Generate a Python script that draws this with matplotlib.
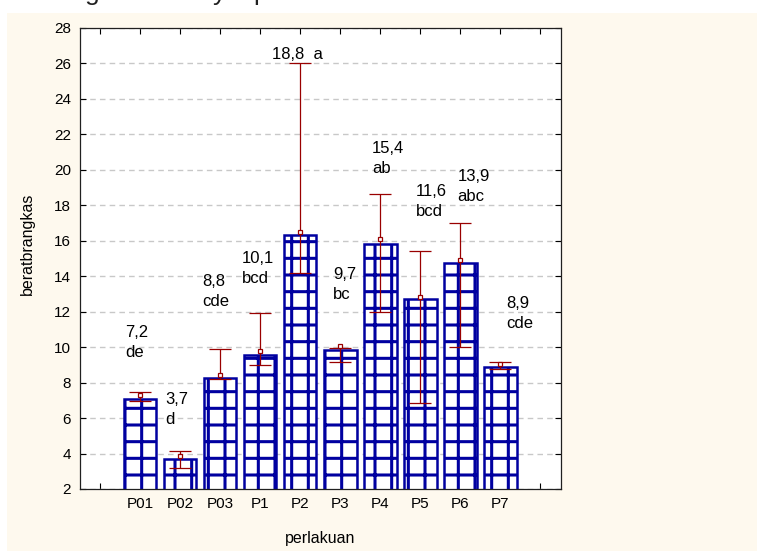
# bar chart of beratbrangkas per perlakuan, with error bars and letter groups
import matplotlib
matplotlib.use("Agg")
import matplotlib.pyplot as plt
from matplotlib.patches import Rectangle
import numpy as np

categories = ["P01", "P02", "P03", "P1", "P2", "P3", "P4", "P5", "P6", "P7"]
bar_vals = [7.06, 3.68, 8.28, 9.57, 16.33, 9.85, 15.82, 12.70, 14.73, 8.88]
mean_vals = [7.30, 3.88, 8.43, 9.78, 16.48, 10.05, 16.08, 12.83, 14.92, 9.03]
err_low = [6.98, 3.17, 8.20, 8.98, 14.20, 9.18, 12.00, 6.87, 9.99, 8.77]
err_high = [7.47, 4.16, 9.88, 11.91, 26.04, 9.97, 18.62, 15.41, 17.00, 9.18]
labels = ["7,2\nde", "3,7\nd", "8,8\ncde", "10,1\nbcd", "18,8  a",
          "9,7\nbc", "15,4\nab", "11,6\nbcd", "13,9\nabc", "8,9\ncde"]
# where each label sits (left, top) in data units
label_x = [0.625, 1.625, 2.55, 3.55, 4.3, 5.83, 6.8, 7.9, 8.93, 10.15]
label_y = [11.25, 7.47, 14.13, 15.42, 26.93, 14.52, 21.63, 19.2, 20.05, 12.88]
y_ticks = list(range(2, 29, 2))

plt.rcParams['font.family'] = ['Liberation Sans', 'DejaVu Sans']
plt.rcParams['hatch.linewidth'] = 2.2

navy = "#0000A0"
red = "#990000"
cream = "#FEF9EE"

fig = plt.figure(figsize=(7.57, 5.51), dpi=100, facecolor=cream)
# white strips of the page around the pasted chart
fig.patches.append(Rectangle((0, 1 - 13 / 551), 1, 13 / 551, transform=fig.transFigure,
                             facecolor="white", edgecolor="none", zorder=0))
fig.patches.append(Rectangle((0, 0), 7 / 757, 1, transform=fig.transFigure,
                             facecolor="white", edgecolor="none", zorder=0))
# bottom of a cut-off caption line above the chart
for ch, px in [("g", 85), ("y", 213), ("p", 253)]:
    fig.text(px / 757, 1.0, ch, fontsize=19, va="baseline", ha="left", color="#202020")

ax = fig.add_axes([79.5 / 757, 1 - 489 / 551, (561.5 - 79.5) / 757, (489 - 28) / 551])
ax.set_facecolor("white")

x = np.arange(1, len(categories) + 1)
ax.bar(x, bar_vals, width=0.82, color="white", edgecolor=navy, linewidth=1.8,
       hatch="+", zorder=2)

low = np.array(err_low)
high = np.array(err_high)
mid = (low + high) / 2
ax.errorbar(x, mid, yerr=[mid - low, high - mid], fmt="none", ecolor=red,
            elinewidth=0.9, capsize=7.8, capthick=0.9, zorder=3)
ax.plot(x, mean_vals, "s", markersize=3.2, markerfacecolor="white",
        markeredgecolor=red, markeredgewidth=0.9, zorder=4)

for lx, ly, t in zip(label_x, label_y, labels):
    ax.text(lx, ly, t, fontsize=12, ha="left", va="top", linespacing=1.42, zorder=5)

ax.set_xlim(-0.51, 11.53)
ax.set_ylim(2, 28)
ax.set_xticks(range(0, 12))
ax.set_xticklabels([""] + categories + [""], fontsize=11)
ax.set_yticks(y_ticks)
ax.set_yticklabels([str(v) for v in y_ticks], fontsize=11)
ax.tick_params(direction="in", length=4, width=0.8, top=True, right=True, pad=6)
ax.yaxis.grid(True, linestyle=(0, (4, 3)), color="#C8C8C8", linewidth=1, zorder=0)
ax.set_axisbelow(True)
for s in ax.spines.values():
    s.set_linewidth(0.9)
    s.set_color("#202020")

ax.set_xlabel("perlakuan", fontsize=11.5, labelpad=14)
fig.text(27.5 / 757, 1 - 244 / 551, "beratbrangkas", rotation=90, fontsize=11.5,
         ha="center", va="center")

fig.savefig("out.png", dpi=100, facecolor=cream)
